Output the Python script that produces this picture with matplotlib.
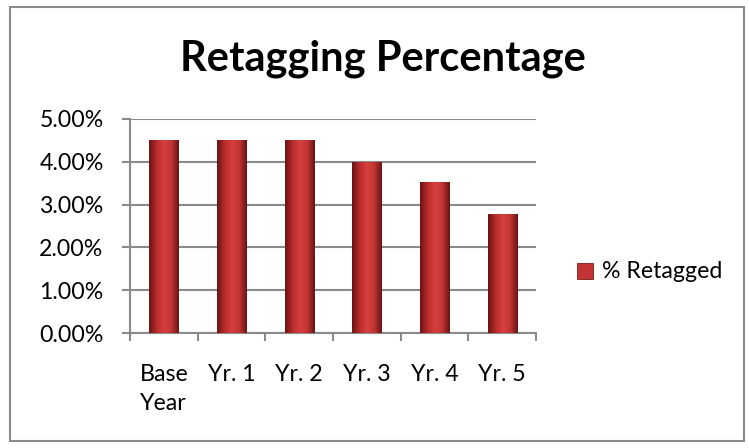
import matplotlib
matplotlib.use("Agg")
import matplotlib.pyplot as plt
import numpy as np
from matplotlib.patches import Rectangle

categories = ["Base\nYear", "Yr. 1", "Yr. 2", "Yr. 3", "Yr. 4", "Yr. 5"]
retagged = [4.5, 4.5, 4.5, 4.0, 3.52, 2.77]
yticks = [0, 1, 2, 3, 4, 5]
series_name = "% Retagged"

plt.rcParams["font.family"] = ["Lato", "DejaVu Sans"]
grey = "#8a8a8a"

fig = plt.figure(figsize=(7.49, 4.48), dpi=100)
# chart area border
fig.patches.append(Rectangle((10 / 749, 7 / 448), 734 / 749, 434 / 448,
                             transform=fig.transFigure, fill=False,
                             edgecolor=grey, linewidth=1.5))

ax = fig.add_axes([130 / 749, 1 - 333 / 448, 406 / 749, 214 / 448])
x = np.arange(len(categories))
bars = ax.bar(x, retagged, width=0.43, color="#c83535", edgecolor="#7a1a1a",
              linewidth=0.6, zorder=3)

# shaded look on each bar
grad = np.linspace(0, 1, 64)
cmap = matplotlib.colors.LinearSegmentedColormap.from_list(
    "barshade", ["#6a1414", "#b82c2c", "#d6403e", "#c23434", "#6a1414"])
for b in bars:
    x0, w, h = b.get_x(), b.get_width(), b.get_height()
    im = ax.imshow(grad.reshape(1, -1), cmap=cmap, aspect="auto",
                   extent=(x0, x0 + w, 0, h), zorder=4)
    im.set_clip_path(b)

ax.set_xlim(-0.5, len(categories) - 0.5)
ax.set_ylim(0, 5)
ax.set_yticks(yticks)
ax.set_yticklabels([f"{v:.2f}%" for v in yticks], fontsize=16.7)
ax.yaxis.grid(True, color=grey, linewidth=1.5, zorder=0)

ax.set_xticks(x)
ax.set_xticklabels(categories, fontsize=16.7, linespacing=1.5,
                   multialignment="left")
ax.set_xticks(np.arange(len(categories) + 1) - 0.5, minor=True)
ax.tick_params(axis="x", which="major", length=0, pad=22)
ax.tick_params(axis="x", which="minor", length=6, color=grey, width=1.5)
ax.tick_params(axis="y", length=6, color=grey, width=1.5, pad=13)

for s in ["top", "right"]:
    ax.spines[s].set_visible(False)
for s in ["left", "bottom"]:
    ax.spines[s].set_color(grey)
    ax.spines[s].set_linewidth(1.5)

fig.text(383 / 749, 1 - 70 / 448, "Retagging Percentage", fontsize=30,
         fontweight="bold", ha="center", va="baseline")

# legend
fig.patches.append(Rectangle((577 / 749, 1 - 279 / 448), 16 / 749, 16 / 448,
                             transform=fig.transFigure, facecolor="#c23434",
                             edgecolor="#7a1a1a", linewidth=0.6))
fig.text(602 / 749, 1 - 271 / 448, series_name, fontsize=16.7, va="center")

fig.savefig("out.png", dpi=100)
